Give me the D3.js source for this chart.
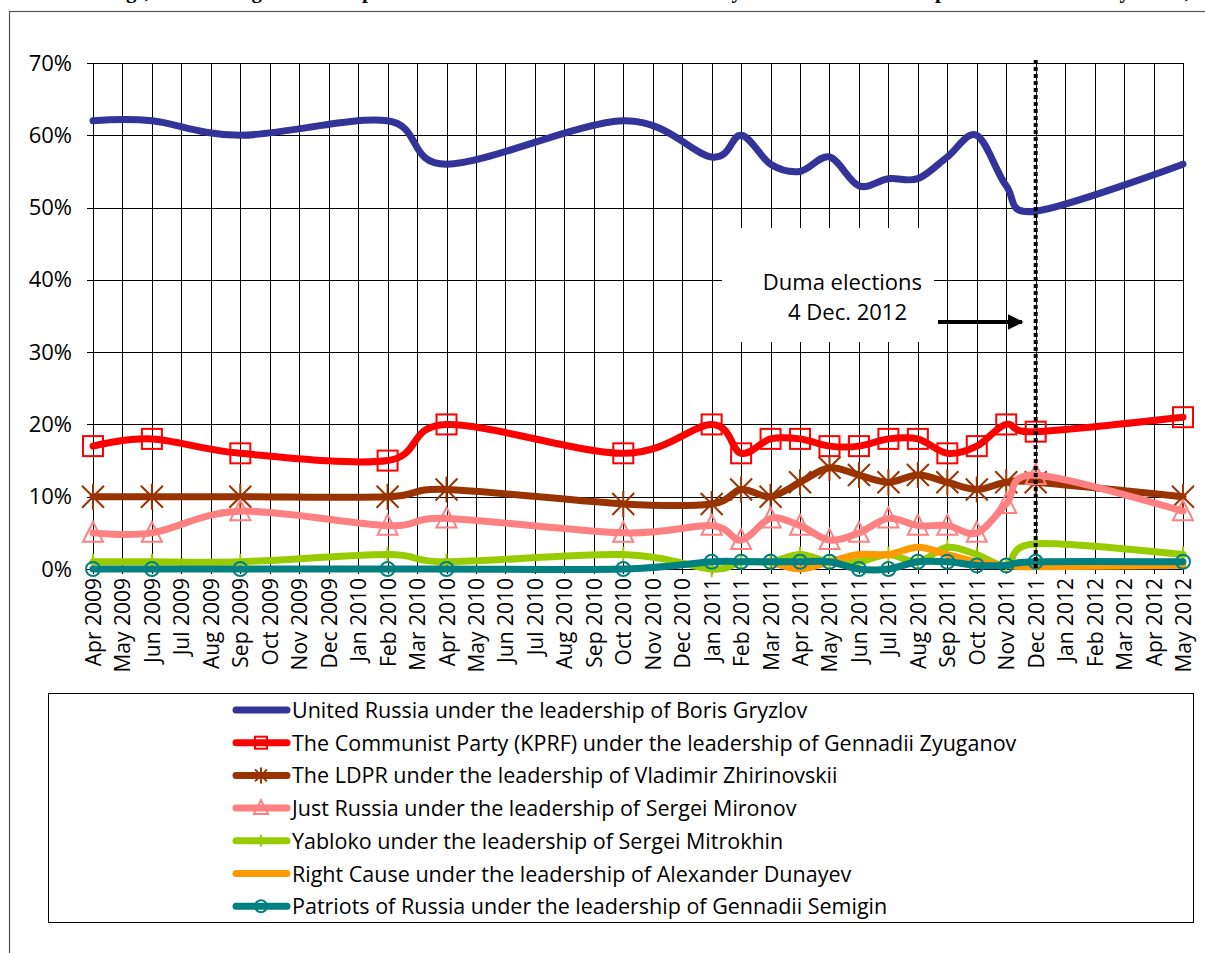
<!DOCTYPE html>
<html>
<head>
<meta charset="utf-8">
<script src="https://cdn.jsdelivr.net/npm/d3@7"></script>
<style>
    body { margin: 0; background: #fff; }
    #chart-area { width: 1205px; height: 953px; }
    text { font-family: "Open Sans", Lato, sans-serif; fill: #000; }
</style>
</head>
<body>
<div id="chart-area"></div>
<script>

// month categories on the x axis
let months = ["Apr 2009", "May 2009", "Jun 2009", "Jul 2009", "Aug 2009", "Sep 2009", "Oct 2009", "Nov 2009",
    "Dec 2009", "Jan 2010", "Feb 2010", "Mar 2010", "Apr 2010", "May 2010", "Jun 2010", "Jul 2010", "Aug 2010",
    "Sep 2010", "Oct 2010", "Nov 2010", "Dec 2010", "Jan 2011", "Feb 2011", "Mar 2011", "Apr 2011", "May 2011",
    "Jun 2011", "Jul 2011", "Aug 2011", "Sep 2011", "Oct 2011", "Nov 2011", "Dec 2011", "Jan 2012", "Feb 2012",
    "Mar 2012", "Apr 2012", "May 2012"];

// months with a survey
let surveys = ["Apr 2009", "Jun 2009", "Sep 2009", "Feb 2010", "Apr 2010", "Oct 2010", "Jan 2011", "Feb 2011",
    "Mar 2011", "Apr 2011", "May 2011", "Jun 2011", "Jul 2011", "Aug 2011", "Sep 2011", "Oct 2011", "Nov 2011",
    "Dec 2011", "May 2012"];

let unitedRussia = [62, 62, 60, 62, 56, 62, 57, 60, 56, 55, 57, 53, 54, 54, 57, 60, 53, 49.5, 56];
let kprf         = [17, 18, 16, 15, 20, 16, 20, 16, 18, 18, 17, 17, 18, 18, 16, 17, 20, 19, 21];
let ldpr         = [10, 10, 10, 10, 11, 9, 9, 11, 10, 12, 14, 13, 12, 13, 12, 11, 12, 12, 10];
let justRussia   = [5, 5, 8, 6, 7, 5, 6, 4, 7, 6, 4, 5, 7, 6, 6, 5, 9, 13, 8];
let yabloko      = [1, 1, 1, 2, 1, 2, 0, 1, 1, 2, 1, 1, 2, 1, 3, 2, 0.5, 3.5, 2];
let rightCause   = [null, null, null, null, null, null, null, null, 1, 0, 1, 2, 2, 3, 2, 1, 0.5, 0.3, 0.5];
let patriots     = [0, 0, 0, 0, 0, 0, 1, 1, 1, 1, 1, 0, 0, 1, 1, 0.5, 0.5, 1, 1];

let seriesNames = [
    "United Russia under the leadership of Boris Gryzlov",
    "The Communist Party (KPRF) under the leadership of Gennadii Zyuganov",
    "The LDPR under the leadership of Vladimir Zhirinovskii",
    "Just Russia under the leadership of Sergei Mironov",
    "Yabloko under the leadership of Sergei Mitrokhin",
    "Right Cause under the leadership of Alexander Dunayev",
    "Patriots of Russia under the leadership of Gennadii Semigin"
];
let seriesColors = ["#333399", "#ff0000", "#993300", "#ff8080", "#99cc00", "#ff9900", "#008080"];
let seriesMarkers = ["none", "square", "star", "triangle", "tick", "none", "circle"];
let seriesValues = [unitedRussia, kprf, ldpr, justRussia, yabloko, rightCause, patriots];

let yTicks = [0, 10, 20, 30, 40, 50, 60, 70];

let electionMonth = "Dec 2011";

let svg = d3.select("#chart-area").append("svg")
    .attr("width", 1205)
    .attr("height", 953);

// caption of the page above, cut off by the crop
let caption = svg.append("g").attr("class", "caption")
    .style("font-weight", "bold")
    .style("font-size", "21px");
[["Ratings,", 150, "end"], ["among", 262, "end"], ["polls", 362, "start"], ["by", 742, "end"],
    ["polls", 935, "start"], ["survey", 1130, "end"], ["data,", 1190, "end"]].forEach(d => {
    caption.append("text").attr("x", d[1]).attr("y", -2).attr("text-anchor", d[2])
        .style("font-family", "'Liberation Serif', serif").text(d[0]);
});

// outer chart frame
svg.append("rect")
    .attr("x", 9.5).attr("y", 11.5)
    .attr("width", 1220).attr("height", 960)
    .attr("fill", "none")
    .attr("stroke", "#555")
    .attr("stroke-width", 1.2);

let margin = {left: 93, right: 1183, top: 63, bottom: 569};

let x = d3.scalePoint()
    .domain(months)
    .range([margin.left, margin.right]);

let y = d3.scaleLinear()
    .domain([0, 70])
    .range([margin.bottom, margin.top]);

// grid
let grid = svg.append("g").attr("class", "grid");
grid.selectAll(".vline")
    .data(months)
    .enter().append("line")
    .attr("class", "vline")
    .attr("x1", d => Math.round(x(d)) + 0.5).attr("x2", d => Math.round(x(d)) + 0.5)
    .attr("y1", margin.top).attr("y2", margin.bottom + 5)
    .attr("stroke", "#000").attr("stroke-width", 1);

grid.selectAll(".hline")
    .data(yTicks)
    .enter().append("line")
    .attr("class", "hline")
    .attr("x1", margin.left - 6).attr("x2", margin.right)
    .attr("y1", d => Math.round(y(d)) + 0.5).attr("y2", d => Math.round(y(d)) + 0.5)
    .attr("stroke", "#000").attr("stroke-width", 1);

// y axis labels
let yAxis = d3.axisLeft(y)
    .tickValues(yTicks)
    .tickFormat(d => d + "%")
    .tickSize(0)
    .tickPadding(21);
svg.append("g")
    .attr("transform", `translate(${margin.left}, 0)`)
    .call(yAxis)
    .call(g => g.select(".domain").remove())
    .selectAll("text")
    .style("font-family", "'Open Sans', sans-serif")
    .style("font-size", "22px");

// x axis labels, rotated
svg.append("g").selectAll("text")
    .data(months)
    .enter().append("text")
    .attr("transform", d => `translate(${x(d) + 8}, 578) rotate(-90)`)
    .attr("text-anchor", "end")
    .style("font-size", "21px")
    .text(d => d);

// annotation box hiding the grid
svg.append("rect")
    .attr("x", 722).attr("y", 228)
    .attr("width", 212).attr("height", 114)
    .attr("fill", "#fff");

let note = svg.append("g").style("font-size", "22px");
note.append("text").attr("x", 922).attr("y", 290).attr("text-anchor", "end").text("Duma elections");
note.append("text").attr("x", 907).attr("y", 320).attr("text-anchor", "end").text("4 Dec. 2012");

// arrow
svg.append("defs").append("marker")
    .attr("id", "arrow")
    .attr("viewBox", "0 0 10 10")
    .attr("refX", 9).attr("refY", 5)
    .attr("markerWidth", 4).attr("markerHeight", 4)
    .attr("orient", "auto")
    .append("path")
    .attr("d", "M0,0 L10,5 L0,10 z")
    .attr("fill", "#000");

svg.append("line")
    .attr("x1", 938).attr("x2", 1022)
    .attr("y1", 322).attr("y2", 322)
    .attr("stroke", "#000").attr("stroke-width", 4)
    .attr("marker-end", "url(#arrow)");

// series
let line = d3.line()
    .defined(d => d.value !== null)
    .x(d => x(d.month))
    .y(d => y(d.value))
    .curve(d3.curveCatmullRom.alpha(0));

function drawMarker(g, type, color, size) {
    let s = size / 2;
    if (type === "square") {
        g.append("rect").attr("x", -s).attr("y", -s).attr("width", size).attr("height", size)
            .attr("fill", "none").attr("stroke", color).attr("stroke-width", 2);
    } else if (type === "triangle") {
        g.append("path").attr("d", `M0,${-s - 2}L${s + 1},${s}L${-s - 1},${s}Z`)
            .attr("fill", "none").attr("stroke", color).attr("stroke-width", 2);
    } else if (type === "star") {
        g.append("path").attr("d", `M${-s},${-s}L${s},${s}M${-s},${s}L${s},${-s}M0,${-s - 2}L0,${s + 2}`)
            .attr("stroke", color).attr("stroke-width", 2);
    } else if (type === "tick") {
        g.append("path").attr("d", `M0,${-s}L0,${s}`)
            .attr("stroke", color).attr("stroke-width", 2);
    } else if (type === "circle") {
        g.append("circle").attr("r", s)
            .attr("fill", "none").attr("stroke", color).attr("stroke-width", 2);
    }
}

let markerSizes = {square: 20, triangle: 18, star: 22, tick: 16, circle: 14};

let plot = svg.append("g").attr("class", "series");

seriesValues.forEach((vals, i) => {
    let data = surveys.map((m, j) => ({month: m, value: vals[j]}));
    plot.append("path")
        .datum(data)
        .attr("d", line)
        .attr("fill", "none")
        .attr("stroke", seriesColors[i])
        .attr("stroke-width", 7)
        .attr("stroke-linecap", "round")
        .attr("stroke-linejoin", "round");

    if (seriesMarkers[i] !== "none") {
        data.filter(d => d.value !== null).forEach(d => {
            let g = plot.append("g").attr("transform", `translate(${x(d.month)}, ${y(d.value)})`);
            drawMarker(g, seriesMarkers[i], seriesColors[i], markerSizes[seriesMarkers[i]]);
        });
    }
});

// election line
svg.append("line")
    .attr("x1", x(electionMonth)).attr("x2", x(electionMonth))
    .attr("y1", 60).attr("y2", margin.bottom)
    .attr("stroke", "#000").attr("stroke-width", 4)
    .attr("stroke-dasharray", "4,3");

// legend
let legend = svg.append("g").attr("class", "legend");
legend.append("rect")
    .attr("x", 48.5).attr("y", 693.5)
    .attr("width", 1145).attr("height", 229)
    .attr("fill", "#fff").attr("stroke", "#000").attr("stroke-width", 1);

seriesNames.forEach((name, i) => {
    let cy = 710 + i * 32.7;
    let item = legend.append("g");
    item.append("line")
        .attr("x1", 236).attr("x2", 287)
        .attr("y1", cy).attr("y2", cy)
        .attr("stroke", seriesColors[i]).attr("stroke-width", 7)
        .attr("stroke-linecap", "round");
    if (seriesMarkers[i] !== "none") {
        let g = item.append("g").attr("transform", `translate(261, ${cy})`);
        drawMarker(g, seriesMarkers[i], seriesColors[i], 12);
    }
    item.append("text")
        .attr("x", 292).attr("y", cy + 8)
        .style("font-size", "21.5px")
        .text(name);
});

</script>
</body>
</html>
